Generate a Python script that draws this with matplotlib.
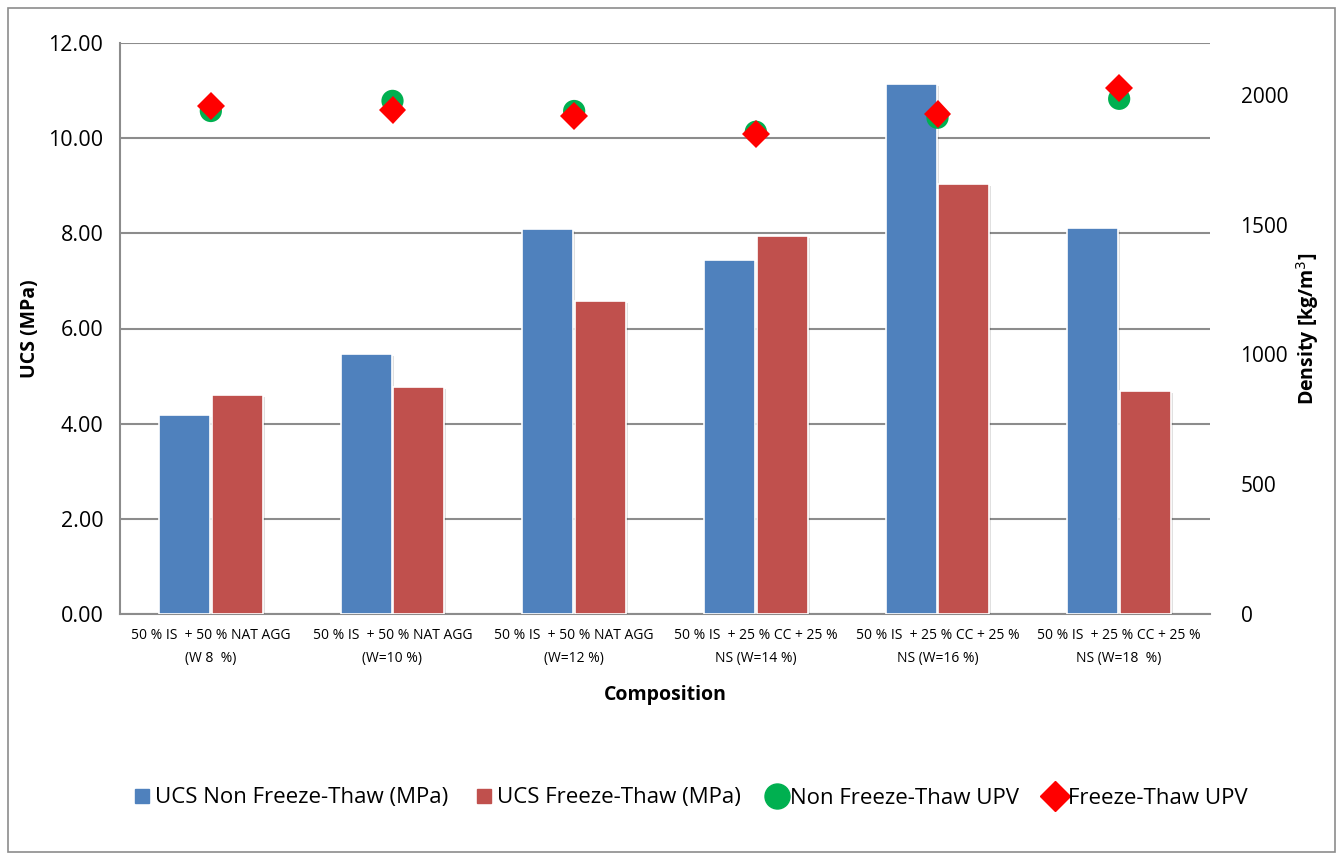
import matplotlib
matplotlib.use("Agg")
import matplotlib.pyplot as plt
import matplotlib.patheffects as pe
from matplotlib.patches import Rectangle
from matplotlib.lines import Line2D
import numpy as np

categories = [
    "50 % IS  + 50 % NAT AGG\n(W 8  %)",
    "50 % IS  + 50 % NAT AGG\n(W=10 %)",
    "50 % IS  + 50 % NAT AGG\n(W=12 %)",
    "50 % IS  + 25 % CC + 25 %\nNS (W=14 %)",
    "50 % IS  + 25 % CC + 25 %\nNS (W=16 %)",
    "50 % IS  + 25 % CC + 25 %\nNS (W=18  %)",
]
ucs_non_ft = [4.18, 5.46, 8.09, 7.44, 11.13, 8.11]
ucs_ft = [4.60, 4.78, 6.58, 7.94, 9.03, 4.68]
density_non_ft = [1938, 1977, 1938, 1858, 1912, 1985]
density_ft = [1958, 1942, 1919, 1850, 1927, 2027]

left_ticks = [0, 2, 4, 6, 8, 10, 12]
right_ticks = [0, 500, 1000, 1500, 2000]

blue = "#4F81BD"
red = "#C0504D"
green = "#00B050"
diamond_red = "#FF0000"
grid_gray = "#8C8C8C"

plt.rcParams["font.family"] = ["Open Sans", "DejaVu Sans"]

fig = plt.figure(figsize=(13.42, 8.6), dpi=100)
W, H = 1342, 860
ax = fig.add_axes([120 / W, 1 - 614 / H, 1090 / W, 571 / H])

x = np.arange(len(categories))
bw = 0.28
shadow = [pe.SimplePatchShadow(offset=(1.5, -1.5), shadow_rgbFace="#000000", alpha=0.12), pe.Normal()]
b1 = ax.bar(x - bw / 2 - 0.005, ucs_non_ft, bw, color=blue, edgecolor="white", linewidth=1.2, zorder=3)
b2 = ax.bar(x + bw / 2 + 0.005, ucs_ft, bw, color=red, edgecolor="white", linewidth=1.2, zorder=3)
for b in list(b1) + list(b2):
    b.set_path_effects(shadow)

ax.set_xlim(-0.5, len(categories) - 0.5)
ax.set_ylim(0, 12)
ax.set_yticks(left_ticks)
ax.set_yticklabels([f"{v:.2f}" for v in left_ticks], fontsize=15.5)
ax.set_xticks(x)
ax.set_xticklabels(categories, fontsize=10, linespacing=1.7)
ax.tick_params(axis="both", length=0, pad=12)
ax.tick_params(axis="x", pad=10)
ax.grid(axis="y", color=grid_gray, linewidth=1.5, zorder=0)
ax.set_axisbelow(True)
for s in ["top", "right"]:
    ax.spines[s].set_visible(False)
for s in ["left", "bottom"]:
    ax.spines[s].set_color(grid_gray)
    ax.spines[s].set_linewidth(1.5)
ax.set_ylabel("UCS (MPa)", fontsize=14, fontweight="bold", labelpad=6)
ax.set_xlabel("Composition", fontsize=14, fontweight="bold", labelpad=14)

ax2 = ax.twinx()
ax2.set_ylim(0, 2200)
ax2.set_yticks(right_ticks)
ax2.set_yticklabels([str(v) for v in right_ticks], fontsize=15)
ax2.tick_params(axis="y", length=0, pad=22)
for s in ax2.spines.values():
    s.set_visible(False)
mshadow = [pe.SimpleLineShadow(offset=(2, -2), shadow_color="#000000", alpha=0.3), pe.Normal()]
ax2.plot(x, density_non_ft, linestyle="none", marker="o", markersize=16, color=green,
         markeredgewidth=0, zorder=4, path_effects=mshadow)
ax2.plot(x, density_ft, linestyle="none", marker="D", markersize=14, color=diamond_red,
         markeredgewidth=0, zorder=5, path_effects=mshadow)
ax2.set_ylabel("Density [kg/m$^3$]", fontsize=14, fontweight="bold", labelpad=4)

handles = [
    Line2D([], [], linestyle="none", marker="s", markersize=10, color=blue),
    Line2D([], [], linestyle="none", marker="s", markersize=10, color=red),
    Line2D([], [], linestyle="none", marker="o", markersize=18, color=green),
    Line2D([], [], linestyle="none", marker="D", markersize=15, color=diamond_red),
]
labels = ["UCS Non Freeze-Thaw (MPa)", "UCS Freeze-Thaw (MPa)", "Non Freeze-Thaw UPV", "Freeze-Thaw UPV"]
fig.legend(handles, labels, loc="center", bbox_to_anchor=(688 / W, 1 - 798 / H), ncol=4,
           frameon=False, fontsize=16, handletextpad=0.0, columnspacing=1.0, handlelength=1.2)

fig.add_artist(Rectangle((8 / W, 1 - 852 / H), 1327 / W, 844 / H, transform=fig.transFigure,
                         fill=False, edgecolor=grid_gray, linewidth=1.2))

fig.savefig("out.png", dpi=100)
